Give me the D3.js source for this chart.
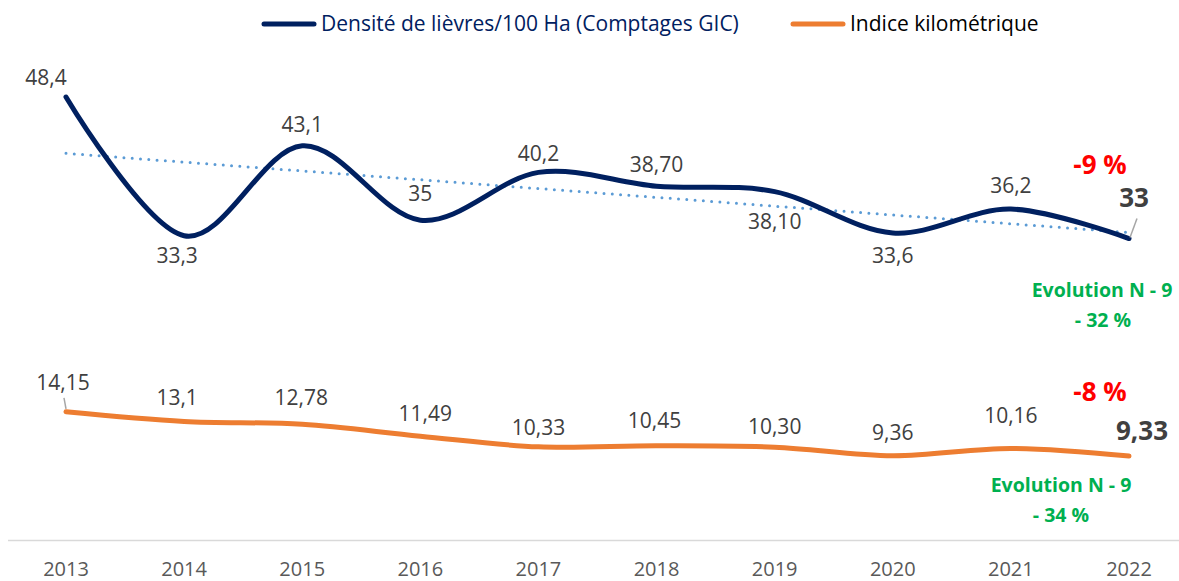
<!DOCTYPE html>
<html>
<head>
<meta charset="utf-8">
<script src="https://cdn.jsdelivr.net/npm/d3@7"></script>
<style>
  body { margin: 0; background: #fff; }
  text { font-family: "Open Sans", Lato, sans-serif; }
</style>
</head>
<body>
<svg width="1179" height="581"></svg>
<script>
// data
var years = ["2013", "2014", "2015", "2016", "2017", "2018", "2019", "2020", "2021", "2022"];
var densite = [48.4, 33.3, 43.1, 35, 40.2, 38.7, 38.1, 33.6, 36.2, 33];
var densiteLabels = ["48,4", "33,3", "43,1", "35", "40,2", "38,70", "38,10", "33,6", "36,2", "33"];
var indice = [14.15, 13.1, 12.78, 11.49, 10.33, 10.45, 10.30, 9.36, 10.16, 9.33];
var indiceLabels = ["14,15", "13,1", "12,78", "11,49", "10,33", "10,45", "10,30", "9,36", "10,16", "9,33"];
var seriesNames = ["Densité de lièvres/100 Ha (Comptages GIC)", "Indice kilométrique"];

// label placement (pixel offsets from the point)
var densiteDy = [-19, 20, -21, -27, -19, -21, 30, 23, -23, -41];
var densiteDx = [-20, -7, 0, 0, 0, 0, 0, 0, 0, 5];
var indiceDy = [-29, -24, -27, -23, -19, -25, -20, -23, -33, -25];
var indiceDx = [-3, -7, -1, 5, 0, -2, 0, 0, 0, 13];

var navy = "#002060", orange = "#ed7d31", trendCol = "#5b9bd5";

var svg = d3.select("svg");

var x = d3.scalePoint().domain(years).range([66, 1129]);
var y = d3.scaleLinear().domain([0, 10]).range([541.8, 449.9]);

// axis line + labels
svg.append("line")
    .attr("x1", 8).attr("x2", 1179)
    .attr("y1", 540.5).attr("y2", 540.5)
    .attr("stroke", "#d9d9d9").attr("stroke-width", 1.5);

svg.append("g").selectAll("text")
    .data(years).enter().append("text")
    .attr("x", function (d) { return x(d); })
    .attr("y", 575.5)
    .attr("text-anchor", "middle")
    .attr("font-size", 20)
    .attr("fill", "#595959")
    .text(function (d) { return d; });

// trend line (linear regression on the density series)
var n = densite.length;
var mx = (n - 1) / 2, my = d3.mean(densite);
var sxy = d3.sum(densite, function (v, i) { return (i - mx) * (v - my); });
var sxx = d3.sum(densite, function (v, i) { return (i - mx) * (i - mx); });
var slope = sxy / sxx, icpt = my - slope * mx;

svg.append("line")
    .attr("x1", x(years[0])).attr("y1", y(icpt))
    .attr("x2", x(years[n - 1])).attr("y2", y(icpt + slope * (n - 1)))
    .attr("stroke", trendCol).attr("stroke-width", 3)
    .attr("stroke-linecap", "round")
    .attr("stroke-dasharray", "0 8.3");

var line = d3.line()
    .x(function (d, i) { return x(years[i]); })
    .y(function (d) { return y(d); })
    .curve(d3.curveCardinal.tension(0));

svg.append("path").datum(densite)
    .attr("d", line)
    .attr("fill", "none").attr("stroke", navy)
    .attr("stroke-width", 5).attr("stroke-linecap", "round");

svg.append("path").datum(indice)
    .attr("d", line)
    .attr("fill", "none").attr("stroke", orange)
    .attr("stroke-width", 5).attr("stroke-linecap", "round");

// leader lines
function leader(i, v, x1, y1, x2, y2) {
    svg.append("line")
        .attr("x1", x(years[i]) + x1).attr("y1", y(v) + y1)
        .attr("x2", x(years[i]) + x2).attr("y2", y(v) + y2)
        .attr("stroke", "#a6a6a6").attr("stroke-width", 1.5);
}
leader(9, densite[9], 1, -1, 8, -20);
leader(0, indice[0], 0, -3, -2, -14);

// data labels
function labels(vals, labs, dx, dy) {
    svg.append("g").selectAll("text")
        .data(vals).enter().append("text")
        .attr("x", function (d, i) { return x(years[i]) + dx[i]; })
        .attr("y", function (d, i) { return y(d) + dy[i]; })
        .attr("dy", "0.35em")
        .attr("text-anchor", "middle")
        .attr("font-size", function (d, i) { return i === n - 1 ? 26 : 21; })
        .attr("font-weight", function (d, i) { return i === n - 1 ? "bold" : "normal"; })
        .attr("fill", "#404040")
        .text(function (d, i) { return labs[i]; });
}
labels(densite, densiteLabels, densiteDx, densiteDy);
labels(indice, indiceLabels, indiceDx, indiceDy);

// annotations
var xl = x(years[n - 1]);
function note(txt, dx, yy, size, col) {
    svg.append("text")
        .attr("x", xl + dx).attr("y", yy).attr("dy", "0.35em")
        .attr("text-anchor", "middle")
        .attr("font-size", size).attr("font-weight", "bold")
        .attr("fill", col).text(txt);
}
note("-9 %", -29, 165, 26, "#ff0000");
note("Evolution N - 9", -27, 290, 19.5, "#00b050");
note("- 32 %", -26, 320, 19.5, "#00b050");
note("-8 %", -29, 392, 26, "#ff0000");
note("Evolution N - 9", -68, 485, 19.5, "#00b050");
note("- 34 %", -68, 515, 19.5, "#00b050");

// legend
var legend = [
    { name: seriesNames[0], color: navy, text: navy, x: 262 },
    { name: seriesNames[1], color: orange, text: "#000", x: 791 }
];
legend.forEach(function (l) {
    svg.append("line")
        .attr("x1", l.x + 2).attr("x2", l.x + 52)
        .attr("y1", 24).attr("y2", 24)
        .attr("stroke", l.color).attr("stroke-width", 5)
        .attr("stroke-linecap", "round");
    svg.append("text")
        .attr("x", l.x + 59).attr("y", 24).attr("dy", "0.35em")
        .attr("font-size", 21)
        .attr("fill", l.text).text(l.name);
});
</script>
</body>
</html>
